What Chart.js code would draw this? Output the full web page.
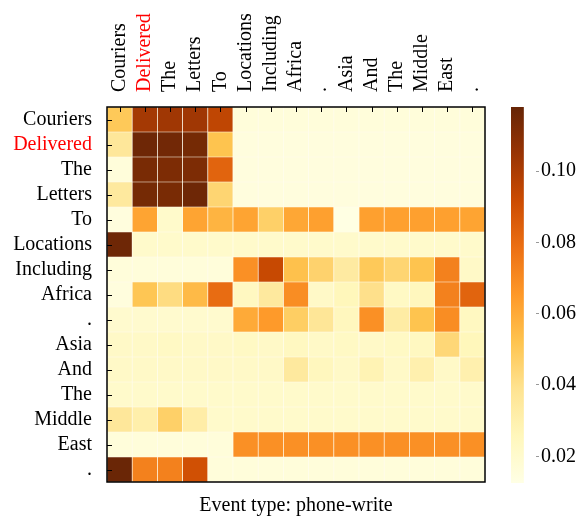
<!DOCTYPE html>
<html>
<head>
<meta charset="utf-8">
<script src="https://cdn.jsdelivr.net/npm/chart.js@4"></script>
<style>
    html, body { margin: 0; padding: 0; background: #fff; overflow: hidden; width: 583px; height: 519px; }
    #heat { position: absolute; left: 0; top: 0; }
    #cbar { position: absolute; left: 490px; top: 0; }
</style>
</head>
<body>
<canvas id="heat" width="500" height="519"></canvas>
<canvas id="cbar" width="93" height="519"></canvas>
<script>
// ---- data ----
const colLabels = ["Couriers", "Delivered", "The", "Letters", "To", "Locations", "Including", "Africa", ".", "Asia", "And", "The", "Middle", "East", "."];
const rowLabels = ["Couriers", "Delivered", "The", "Letters", "To", "Locations", "Including", "Africa", ".", "Asia", "And", "The", "Middle", "East", "."];
const highlightIndex = 1; // "Delivered" drawn in red

// attention weights, one row per row label (top to bottom)
const weights = [
    [0.050, 0.102, 0.103, 0.103, 0.095, 0.016, 0.016, 0.016, 0.016, 0.016, 0.016, 0.016, 0.016, 0.016, 0.016],
    [0.036, 0.116, 0.115, 0.114, 0.052, 0.015, 0.015, 0.015, 0.015, 0.015, 0.015, 0.015, 0.015, 0.015, 0.015],
    [0.016, 0.113, 0.112, 0.112, 0.083, 0.015, 0.015, 0.015, 0.015, 0.015, 0.015, 0.015, 0.015, 0.015, 0.015],
    [0.035, 0.114, 0.113, 0.116, 0.045, 0.015, 0.015, 0.015, 0.015, 0.015, 0.015, 0.015, 0.015, 0.015, 0.015],
    [0.015, 0.062, 0.021, 0.062, 0.057, 0.062, 0.047, 0.061, 0.063, 0.013, 0.063, 0.063, 0.063, 0.063, 0.062],
    [0.116, 0.021, 0.021, 0.021, 0.021, 0.021, 0.021, 0.021, 0.021, 0.021, 0.021, 0.021, 0.021, 0.021, 0.021],
    [0.016, 0.016, 0.016, 0.016, 0.016, 0.068, 0.093, 0.053, 0.046, 0.034, 0.050, 0.045, 0.052, 0.073, 0.022],
    [0.015, 0.051, 0.042, 0.055, 0.080, 0.024, 0.035, 0.069, 0.022, 0.026, 0.040, 0.023, 0.025, 0.073, 0.083],
    [0.020, 0.020, 0.020, 0.020, 0.020, 0.060, 0.065, 0.048, 0.037, 0.025, 0.068, 0.033, 0.052, 0.069, 0.024],
    [0.022, 0.022, 0.023, 0.022, 0.022, 0.023, 0.022, 0.024, 0.022, 0.023, 0.022, 0.023, 0.024, 0.044, 0.026],
    [0.022, 0.022, 0.022, 0.022, 0.022, 0.022, 0.022, 0.035, 0.025, 0.022, 0.028, 0.022, 0.030, 0.022, 0.030],
    [0.021, 0.021, 0.021, 0.021, 0.021, 0.021, 0.021, 0.021, 0.021, 0.021, 0.021, 0.021, 0.021, 0.021, 0.021],
    [0.036, 0.031, 0.047, 0.032, 0.021, 0.021, 0.021, 0.021, 0.021, 0.021, 0.021, 0.021, 0.021, 0.021, 0.021],
    [0.016, 0.016, 0.016, 0.016, 0.016, 0.068, 0.068, 0.068, 0.068, 0.068, 0.068, 0.068, 0.068, 0.068, 0.068],
    [0.117, 0.073, 0.073, 0.090, 0.016, 0.016, 0.016, 0.016, 0.016, 0.016, 0.016, 0.016, 0.016, 0.016, 0.016]
];

const colorMin = 0.0125;
const colorMax = 0.118;
const colorbarTicks = [0.02, 0.04, 0.06, 0.08, 0.10];
const titleText = "Event type: phone-write";

// YlOrBr colour stops
const ylOrBr = ["#ffffe5", "#fff7bc", "#fee391", "#fec44f", "#fe9929", "#ec7014", "#cc4c02", "#993404", "#662506"];

Chart.defaults.font.family = "'Liberation Serif', 'DejaVu Serif', serif";
Chart.defaults.font.size = 20;
Chart.defaults.color = "#000";

function hexToRgb(h) {
    return [parseInt(h.slice(1, 3), 16), parseInt(h.slice(3, 5), 16), parseInt(h.slice(5, 7), 16)];
}

function cmap(v) {
    let t = (v - colorMin) / (colorMax - colorMin);
    t = Math.max(0, Math.min(1, t));
    const pos = t * (ylOrBr.length - 1);
    const i = Math.min(Math.floor(pos), ylOrBr.length - 2);
    const f = pos - i;
    const a = hexToRgb(ylOrBr[i]), b = hexToRgb(ylOrBr[i + 1]);
    const c = a.map((x, k) => Math.round(x + (b[k] - x) * f));
    return `rgb(${c[0]}, ${c[1]}, ${c[2]})`;
}

// inward tick marks + black frame around the heatmap
const frameAndTicks = {
    id: "frameAndTicks",
    afterDatasetsDraw(chart) {
        const { ctx, chartArea: a, scales } = chart;
        ctx.save();
        ctx.strokeStyle = "#000";
        ctx.lineWidth = 1;
        ctx.beginPath();
        scales.x.ticks.forEach((t, i) => {
            const px = Math.round(scales.x.getPixelForTick(i)) + 0.5;
            ctx.moveTo(px, a.top);
            ctx.lineTo(px, a.top + 5);
        });
        scales.yl.ticks.forEach((t, i) => {
            const py = Math.round(scales.yl.getPixelForTick(i)) + 0.5;
            ctx.moveTo(a.left, py);
            ctx.lineTo(a.left + 5, py);
        });
        ctx.stroke();
        ctx.lineWidth = 1.5;
        ctx.strokeRect(a.left, a.top, a.right - a.left, a.bottom - a.top);
        ctx.restore();
    }
};

// each row is one stacked dataset; bottom row goes first
const heatDatasets = [];
for (let r = rowLabels.length - 1; r >= 0; r--) {
    heatDatasets.push({
        label: rowLabels[r],
        data: colLabels.map(() => 1),
        backgroundColor: weights[r].map(cmap),
        borderColor: "rgba(255, 250, 225, 0.55)",
        borderWidth: 0.7,
        borderSkipped: false,
        barPercentage: 1,
        categoryPercentage: 1
    });
}

new Chart(document.getElementById("heat"), {
    type: "bar",
    data: { labels: colLabels, datasets: heatDatasets },
    options: {
        responsive: false,
        animation: false,
        layout: { padding: { top: 0, right: 15, left: 0, bottom: 0 } },
        plugins: {
            legend: { display: false },
            tooltip: { enabled: false },
            title: {
                display: true,
                position: "bottom",
                fullSize: false,
                text: titleText,
                color: "#000",
                font: { size: 20, weight: "normal" },
                padding: { top: 12, bottom: 1 }
            }
        },
        scales: {
            x: {
                type: "category",
                position: "top",
                stacked: true,
                grid: { display: false, drawTicks: false },
                border: { display: false },
                ticks: {
                    autoSkip: false,
                    minRotation: 90,
                    maxRotation: 90,
                    padding: 15,
                    labelOffset: 24,
                    color: c => c.index === highlightIndex ? "#ff0000" : "#000"
                },
                afterFit: s => { s.height = 107; }
            },
            y: {
                type: "linear",
                stacked: true,
                min: 0,
                max: rowLabels.length,
                display: false
            },
            yl: {
                type: "category",
                labels: rowLabels,
                position: "left",
                offset: true,
                grid: { display: false, drawTicks: false },
                border: { display: false },
                ticks: {
                    autoSkip: false,
                    padding: 15,
                    color: c => c.index === highlightIndex ? "#ff0000" : "#000"
                },
                afterFit: s => { s.width = 107; }
            }
        }
    },
    plugins: [frameAndTicks]
});

// ---- colour bar ----
new Chart(document.getElementById("cbar"), {
    type: "bar",
    data: {
        labels: ["scale"],
        datasets: [{
            data: [[colorMin, colorMax]],
            barPercentage: 1,
            categoryPercentage: 1,
            borderWidth: 0,
            backgroundColor: c => {
                const area = c.chart.chartArea;
                if (!area) return ylOrBr[4];
                const g = c.chart.ctx.createLinearGradient(0, area.bottom, 0, area.top);
                ylOrBr.forEach((col, i) => g.addColorStop(i / (ylOrBr.length - 1), col));
                return g;
            }
        }]
    },
    options: {
        responsive: false,
        animation: false,
        layout: { padding: { left: 21, top: 107, bottom: 36, right: 0 } },
        plugins: { legend: { display: false }, tooltip: { enabled: false } },
        scales: {
            x: { display: false, offset: false },
            y: {
                position: "right",
                min: colorMin,
                max: colorMax,
                grid: { display: true, drawOnChartArea: false, drawTicks: true, tickLength: 3, color: "#999" },
                border: { display: false },
                ticks: {
                    padding: 2,
                    color: "#000",
                    callback: v => Number(v).toFixed(2)
                },
                afterBuildTicks: s => { s.ticks = colorbarTicks.map(v => ({ value: v })); },
                afterFit: s => { s.width = 47; }
            }
        }
    }
});
</script>
</body>
</html>
